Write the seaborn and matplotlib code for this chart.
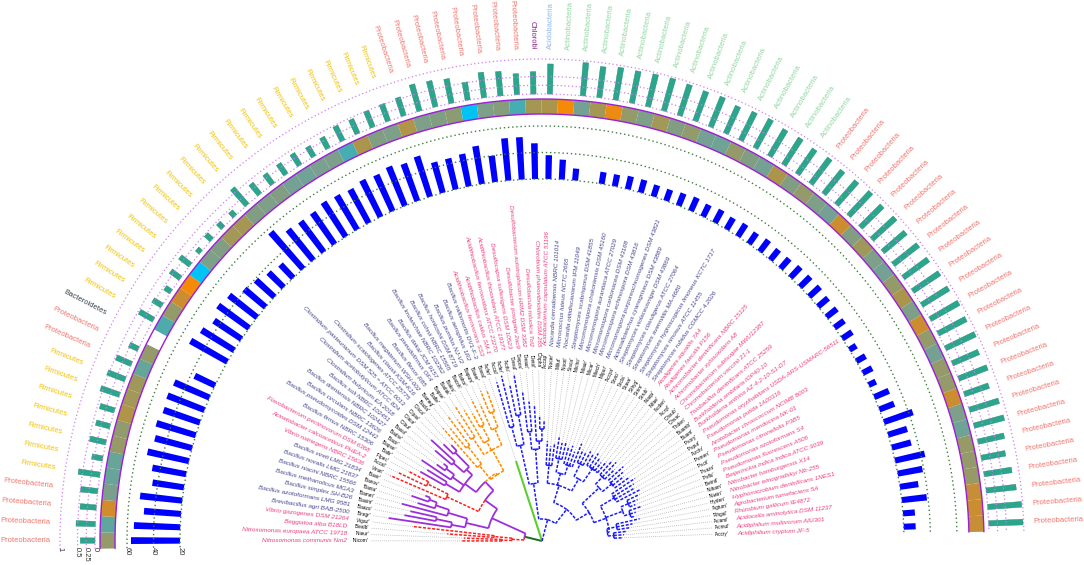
import numpy as np
import matplotlib
matplotlib.use("Agg")
import matplotlib.pyplot as plt
import seaborn as sns

# ---------------- data ----------------
species = [
    "Nitrosomonas communis Nm2", "Nitrosomonas europaea ATCC 19718", "Beggiatoa alba B18LD",
    "Vibrio gazogenes DSM 21264", "Brevibacillus agri BAB-2500", "Bacillus azotoformans LMG 9581",
    "Bacillus simplex SH-B26", "Bacillus methanolicus MGA3", "Bacillus niacini NBRC 15566",
    "Bacillus novalis LMG 21837", "Bacillus vireti LMG 21834", "Vibrio natriegens NBRC 15636",
    "Acinetobacter calcoaceticus PHEA-2", "Flavobacterium pectinovorum DSM 6368",
    "Bacillus firmus NBRC 15306", "Bacillus pseudomycoides DSM 12442", "Bacillus circulans NBRC 13626",
    "Bacillus drentensis NBRC 102427", "Bacillus soli NBRC 102451", "Clostridium butyricum EA 2018",
    "Clostridium acetobutylicum ATCC 824", "Clostridium pasteurianum DSM 525 = ATCC 6013",
    "Clostridium scatologenes ATCC 25775", "Bacillus clausii KSM-K16", "Bacillus megaterium WSH-002",
    "Bacillus flexus R85", "Bacillus pseudofirmus OF4", "Bacillus dakai JCM 9157",
    "Bacillus krulwichiae NBRC 102362", "Bacillus cohnii NBRC 15565", "Bacillus horikoshii DSM 8719",
    "Bacillus pumilus NJ-V2", "Bacillus aerophilus 1R2", "Bacillus vallismortis DV1-F-3",
    "Acidithiobacillus ferrivorans SS3", "Acidithiobacillus caldus SM-1",
    "Acidithiobacillus ferrooxidans ATCC 23270", "Acidithiobacillus thiooxidans ATCC 19377",
    "Desulfocapsa sulfexigens DSM 10523", "Desulfobacter postgatei 2ac9",
    "Desulfobacterium autotrophicum HRM2 DSM 3382", "Desulfobacula toluolica Tol2",
    "Chlorobium phaeovibrioides DSM 265", "Acidobacterium capsulatum ATCC 51196",
    "Nocardia cerradoensis NBRC 101014", "Micrococcus luteus NCTC 2665",
    "Nocardia otitidiscaviarum IFM 11049", "Streptomyces scabrisporus DSM 41855",
    "Micromonospora chokoriensis DSM 45160", "Micromonospora aurantiaca ATCC 27029",
    "Micromonospora carbonacea DSM 43168", "Micromonospora echinospora DSM 43816",
    "Micromonospora purpureochromogenes DSM 43821", "Actinoalloteichus cyanogriseus DSM 43889",
    "Streptomyces violaceusniger DSM 43869", "Streptomyces clavuligerus ATCC 27064",
    "Streptomyces avermitilis MA-4680", "Streptomyces hygroscopicus limoneus KCTC 1717",
    "Streptomyces rimosus ATCC 11455", "Streptomyces rubidus CGMCC 4.2026",
    "Alcaligenes aquatilis 7A4", "Alcaligenes faecalis P156", "Achromobacter denitrificans NBRC 15125",
    "Achromobacter xylosoxidans A8", "Chromobacterium subtsugae MWU12387",
    "Chromobacterium vaccinii 21-1", "Thiobacillus denitrificans ATCC 25259",
    "Burkholderia ambifaria IOP40-10", "Burkholderia anthina AZ-4-2-10-S1-D7",
    "Pseudomonas oryzihabitans USDA-ARS-USMARC-56511", "Pseudomonas putida 1A00316",
    "Azotobacter chroococcum NCIMB 8003", "Pseudomonas mendocina NK-01",
    "Pseudomonas citronellolis P3B5", "Pseudomonas azotoformans S4", "Pseudomonas fluorescens A506",
    "Beijerinckia indica indica ATCC 9039", "Nitrobacter hamburgensis X14",
    "Nitrobacter winogradskyi Nb-255", "Hyphomicrobium denitrificans 1NES1",
    "Agrobacterium tumefaciens 5A", "Rhizobium gallicum IE4872", "Acidocella aminolytica DSM 11237",
    "Acidiphilium multivorum AIU301", "Acidiphilium cryptum JF-5",
]

phylum = (["Proteobacteria"] * 4 + ["Firmicutes"] * 7 + ["Proteobacteria"] * 2 +
          ["Bacteroidetes"] + ["Firmicutes"] * 20 + ["Proteobacteria"] * 8 +
          ["Chlorobi"] + ["Acidobacteria"] + ["Actinobacteria"] * 16 + ["Proteobacteria"] * 25)

blue_vals = ([57, 55, 48, 52, 44, 46, 52, 49, 51, 49, 50, 49, 37, np.nan, 52,
              49, 45, 49, 47, 41, 39, 36, 34, 57, 50, 49, 49, 51, 50, 49, 51, 50,
              52, 50, 52, 44, 44, 45, 49, 40, 52, 52, 47, 38, 35, 29, np.nan,
              29, 29, 30, 30, 29, 29, 30, 31, 30, 31, 30, 31, 30, 31, 30,
              30, 31, 31, 31, 30, 30, 29, 29, 26, 28, 28, 26, 32, 32, 43, 35, 35,
              43, 39, 34, 39, 29, 29])

teal_vals = ([.42, .55, .46, .49, .62, .31, .47, .41, .43, .57, .54, .47, .28, np.nan, .46,
              .30, .20, .34, .37, .14, .22, .19, .18,
              .63, .39, .36, .37, .39, .33, .36, .47, .45, .50, .52,
              .55, .79, .76, .71, .52, .73, .70, .60, .64, .86, np.nan,
              .95, .89, .94, .93, .95, .96, .93,
              .90, .92, .85, .90, .93, .88, .90, .86, .90, .85, .88, .92, .87, .90, .85, .90, .88, .92, .90,
              .94, .90, .94, .82, .88, .74, .88, .89, .77, .70, .80, .86, .97, .98])

heat_vals = ([0.6, 0.25, 0.9, 0.4, 0.3, 0.3, 0.62, 0.58, 0.78, 0.7, 0.68, 0.28, 0.6, np.nan, 0.18,
              0.6, 0.88, 1.0, 0.0, 0.42, 0.45, 0.7, 0.72, 0.45, 0.42, 0.45, 0.35, 0.33, 0.38, 0.4,
              0.15, 0.76, 0.45, 0.42,
              0.78, 0.42, 0.45, 0.55, 0.0, 0.42, 0.5, 0.15, 0.72, 0.76, 1.0, 0.35, 0.72, 0.97,
              0.6, 0.42, 0.7, 0.45, 0.58, 0.35, 0.32, 0.6, 0.45, 0.35, 0.76, 0.45, 0.6, 0.42, 0.35,
              0.88, 0.45, 0.68, 0.42, 0.35, 0.6,
              0.76, 0.42, 0.88, 0.6, 0.35, 0.6, 0.6, 0.88, 0.42, 0.32, 0.62, 0.6, 0.62, 0.86, 0.88, 0.86])

tip_r = ([80, 78, 95, 130] + [155, 140, 135, 145, 130, 138, 125] + [165, 160, 150] +
         [140, 135, 145, 130, 125, 140, 150, 138, 132] +
         [150, 145, 155, 148, 160, 152, 145, 158, 150, 162, 160] + [84] +
         [165, 170, 160, 168, 150, 140, 135, 125, 120] +
         [100, 95, 98, 105, 100, 102, 98, 100, 95, 105, 100, 98, 102, 100, 104, 100, 98, 102] +
         [105, 108, 102, 110, 106, 104, 108, 112, 108, 106, 110, 108, 104, 100, 105, 98, 95,
          100, 92, 88, 85, 82, 80])

# tree topology: (node radius, colour key, children); ints are leaves
TREE = (0, 'G', [
    (18, 'g', [
        (30, 'r', [(40, 'r', [0, 1]), (48, 'r', [2, 3])]),
        (55, 'p', [
            (78, 'p', [(92, 'p', [4, (108, 'p', [5, 6])]),
                       (98, 'p', [7, (112, 'p', [8, (120, 'p', [9, 10])])])]),
            (70, 'p', [
                (105, 'r', [11, (128, 'r', [12, 13])]),
                (82, 'p', [
                    (96, 'p', [(112, 'p', [14, 15]), (110, 'p', [16, (120, 'p', [17, 18])]),
                               (104, 'p', [(118, 'p', [19, 20]), (124, 'p', [21, 22])])]),
                    (80, 'o', [(98, 'o', [23, (120, 'o', [24, 25])]),
                               (104, 'o', [(124, 'o', [26, 27]), (114, 'o', [28, (130, 'o', [29, 30])]),
                                           (122, 'o', [31, (138, 'o', [32, 33])])])]),
                ]),
            ]),
        ]),
    ]),
    34,
    (22, 'b', [
        (58, 'b', [(98, 'b', [(118, 'b', [35, 36]), (128, 'b', [37, 38])]),
                   (92, 'b', [(110, 'b', [39, 40]), (100, 'b', [41, (112, 'b', [42, 43])])])]),
        (40, 'b', [
            (58, 'b', [(76, 'b', [44, 45, 46]),
                       (70, 'b', [(84, 'b', [47, 48, 49]), (80, 'b', [50, 51, 52, 53])]),
                       (72, 'b', [(86, 'b', [54, 55, 56]), (88, 'b', [57, 58, 59, 60, 61])])]),
            (55, 'b', [(78, 'b', [(88, 'b', [62, 63, 64]), (90, 'b', [65, 66, 67, 68])]),
                       (68, 'b', [(84, 'b', [69, 70, 71, 72]),
                                  (86, 'b', [(94, 'b', [73, 74, 75]), (92, 'b', [76, 77, 78])]),
                                  (66, 'b', [(76, 'b', [79, 80, 81]), (72, 'b', [82, 83, 84])])])]),
        ]),
    ]),
])

phylum_colors = {"Proteobacteria": "#f4736b", "Firmicutes": "#f2c200", "Bacteroidetes": "#34414f",
                 "Chlorobi": "#8b1c8b", "Acidobacteria": "#8ab8f0", "Actinobacteria": "#8fd6a0"}
gram_pos = {"Firmicutes", "Actinobacteria"}
heat_colors = ["#00c3f5", "#40aeb4", "#5fa79d", "#7aa090", "#869c7a", "#989a66", "#a8964f",
               "#c98d34", "#f58a08"]
tree_style = {'G': ("#5ccf2e", "-", 1.5), 'g': ("#1f6b1f", "-", 1.4), 'p': ("#9b30d9", "-", 1.3),
              'o': ("#ff8c00", (0, (2, 1)), 1.1), 'r': ("#ff2020", (0, (2, 1)), 1.1),
              'b': ("#1a1aff", (0, (2, 1)), 1.1)}

# ---------------- figure ----------------
sns.set_theme(style="white")
plt.rcParams['font.family'] = ['Liberation Sans', 'DejaVu Sans']

W, H = 1084, 565
R = 541
cx, cy = 542, 24
fig = plt.figure(figsize=(W / 100, H / 100), dpi=100)
fig.patch.set_facecolor("white")
ax = fig.add_axes([(cx - R) / W, (cy - R) / H, 2 * R / W, 2 * R / H], projection='polar')
ax.set_rlim(0, R)
ax.set_axis_off()

N = len(species)
start, end = 181.0, 1.2
step = (start - end) / N
theta_deg = np.array([start - (i + 0.5) * step for i in range(N)])
theta = np.radians(theta_deg)
step_rad = np.radians(step)
arc_t = np.radians(np.linspace(start, end, 500))

# ---- tree ----
def pos(node):
    if isinstance(node, int):
        return theta[node], tip_r[node]
    r, _, kids = node
    return float(np.mean([pos(k)[0] for k in kids])), r

def draw(node):
    r, col, kids = node
    tp, _ = pos(node)
    for k in kids:
        tk, rk = pos(k)
        c = k[1] if isinstance(k, tuple) else col
        color, ls, lw = tree_style[c]
        if abs(tk - tp) > 1e-6:
            tt = np.linspace(tp, tk, 40)
            ax.plot(tt, np.full_like(tt, r), color=color, ls=ls, lw=lw, solid_capstyle='butt')
        ax.plot([tk, tk], [r, rk], color=color, ls=ls, lw=lw, solid_capstyle='butt')
        if isinstance(k, tuple):
            draw(k)

for i in range(N):
    ax.plot([theta[i], theta[i]], [tip_r[i], 171], color="#b0b0b0", ls=(0, (1, 1.5)), lw=0.6)
draw(TREE)

# ---- labels (codes + species) ----
def radial_text(t_deg, r, s, **kw):
    if t_deg > 90:
        rot, ha = t_deg - 180, 'right'
    else:
        rot, ha = t_deg, 'left'
    ax.text(np.radians(t_deg), r, s, rotation=rot, rotation_mode='anchor', ha=ha, va='center', **kw)

for i, name in enumerate(species):
    parts = name.split()
    code = "'" + parts[0][:2] + parts[1][:3] + "'"
    radial_text(theta_deg[i], 173, code, fontsize=3.4, color="black")
    col = "#45458f" if phylum[i] in gram_pos else "#ee3d7f"
    radial_text(theta_deg[i], 195, name, fontsize=4.6, style='italic', color=col)
    radial_text(theta_deg[i], 492, phylum[i], fontsize=5.5, color=phylum_colors[phylum[i]])

# ---- blue bars ----
bv = np.array(blue_vals, dtype=float)
ok = ~np.isnan(bv)
for rr in (362, 388.5, 415):
    ax.plot(arc_t, np.full_like(arc_t, rr), color="#3f7f3f", ls=(0, (1, 2)), lw=1.0)
ax.bar(theta[ok], (bv[ok] - 20) * 1.325, width=step_rad * 0.45, bottom=362,
       color="#0000ff", edgecolor="none", align='center')

# ---- heatmap ring ----
cmap = sns.blend_palette(heat_colors, as_cmap=True)
hv = np.array(heat_vals, dtype=float)
cell_cols = [cmap(v) if not np.isnan(v) else (1, 1, 1, 1) for v in hv]
ax.bar(theta, 15, width=step_rad, bottom=427, color=cell_cols, edgecolor="none", align='center')
for rr in (427, 442):
    ax.plot(arc_t, np.full_like(arc_t, rr), color="#9a20d8", lw=1.0)

# ---- teal bars ----
tv = np.array(teal_vals, dtype=float)
ok2 = ~np.isnan(tv)
for rr in (447, 455.75, 464.5, 482):
    ax.plot(arc_t, np.full_like(arc_t, rr), color="#cf7ff0", ls=(0, (1, 2)), lw=0.9)
ax.bar(theta[ok2], tv[ok2] * 35, width=step_rad * 0.32, bottom=447,
       color="#2ca58d", edgecolor="#1d8a70", linewidth=0.3, align='center')

# ---- scale tick labels ----
for txt, rr in [("20", 362), ("40", 388.5), ("60", 415), ("0", 447), ("0.25", 455.75),
                ("0.5", 464.5), ("1", 482)]:
    ax.annotate(txt, xy=(np.pi, rr), xytext=(0, -4), textcoords='offset points', rotation=270,
                ha='center', va='top', fontsize=5.5, color="#333333")

fig.savefig("out.png", dpi=100)
